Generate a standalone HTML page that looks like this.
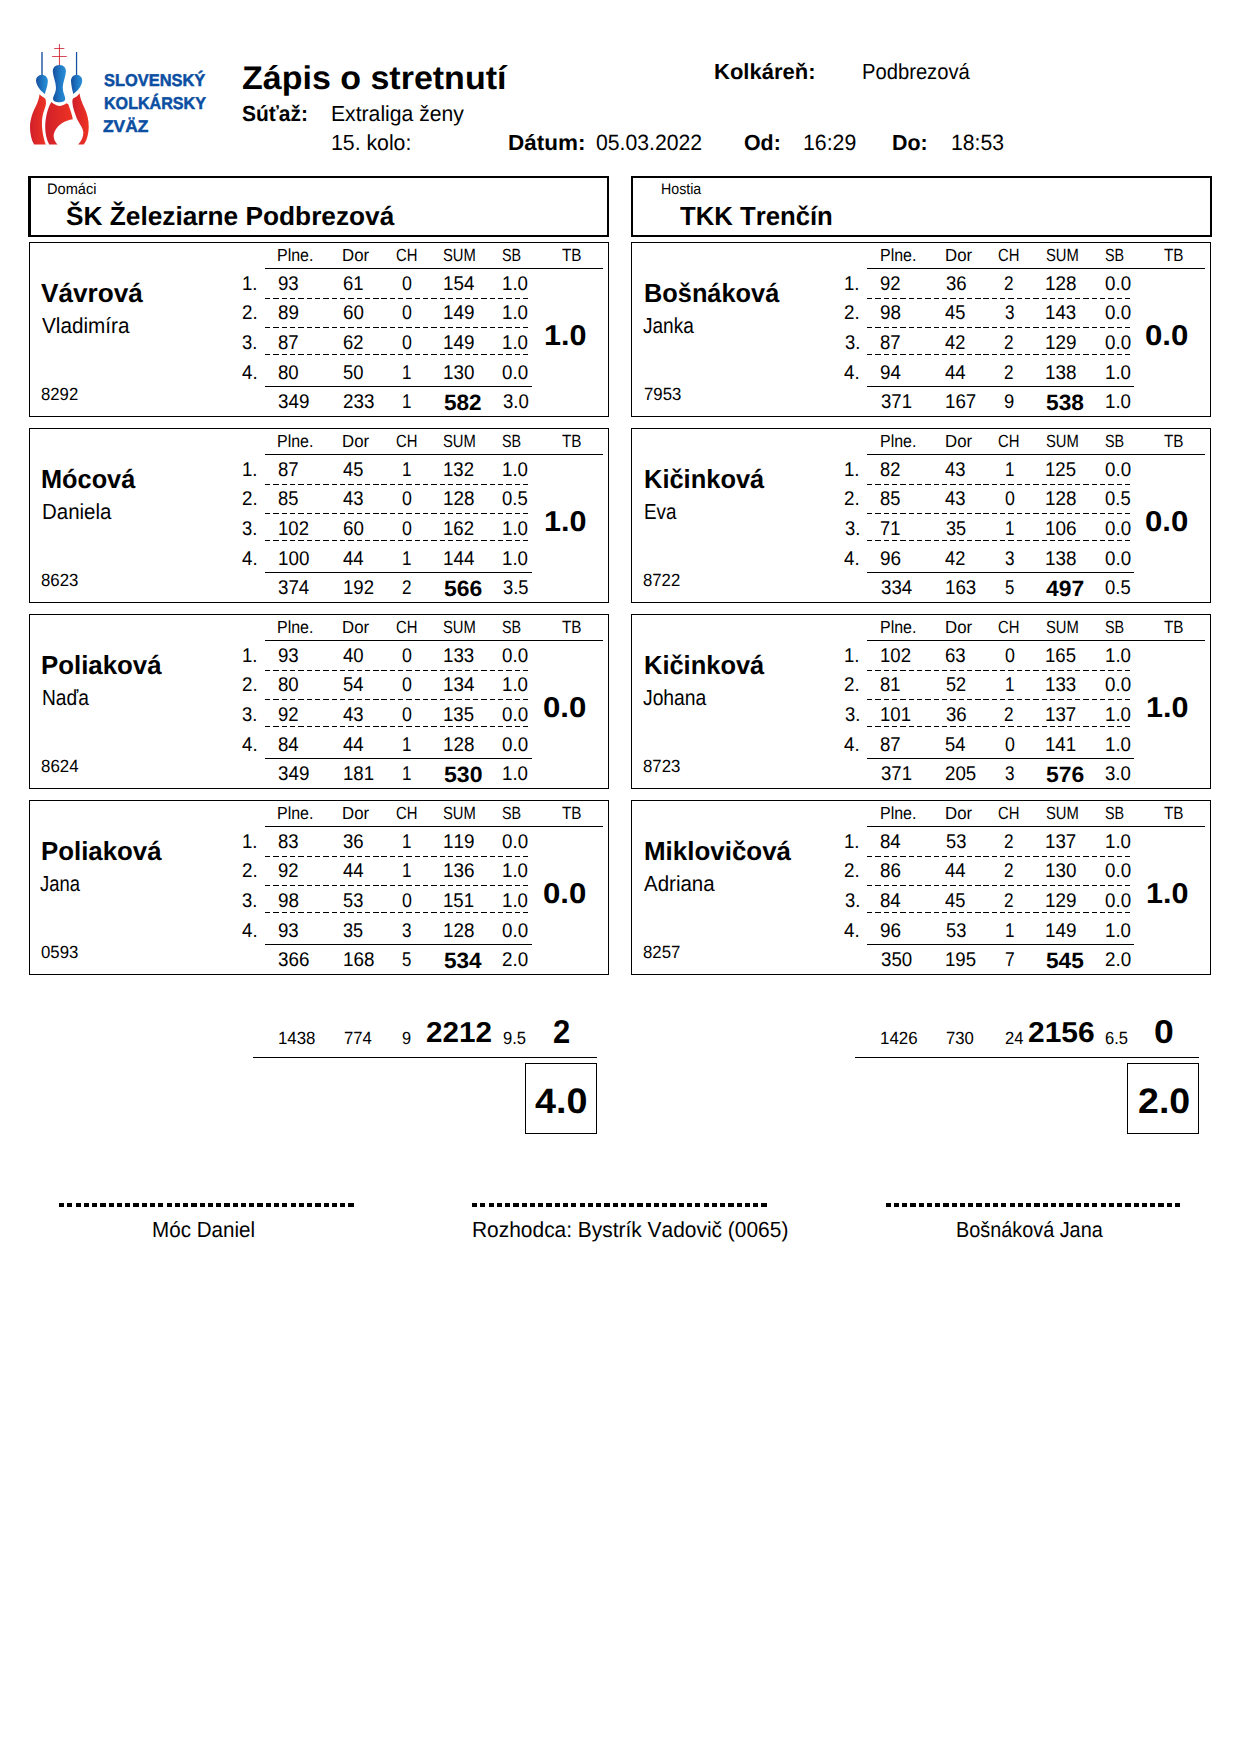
<!DOCTYPE html>
<html lang="sk"><head><meta charset="utf-8"><title>Zápis o stretnutí</title>
<style>
html,body{margin:0;padding:0;background:#fff;}
body{width:1240px;height:1754px;position:relative;overflow:hidden;font-family:"Liberation Sans",sans-serif;color:#000;}
#pg{position:absolute;left:0;top:0;width:1240px;height:1754px;}
.t{position:absolute;white-space:pre;line-height:1;transform-origin:0 0;font-kerning:none;text-rendering:geometricPrecision;font-weight:400;}
.b{font-weight:700;}
svg{position:absolute;left:0;top:0;}
</style></head><body>
<svg width="1240" height="1754" viewBox="0 0 1240 1754" shape-rendering="crispEdges">
<rect x="28" y="176" width="581" height="2" fill="#000"/>
<rect x="28" y="235" width="581" height="2" fill="#000"/>
<rect x="28" y="176" width="3" height="61" fill="#000"/>
<rect x="607" y="176" width="2" height="61" fill="#000"/>
<rect x="631" y="176" width="581" height="2" fill="#000"/>
<rect x="631" y="235" width="581" height="2" fill="#000"/>
<rect x="631" y="176" width="2" height="61" fill="#000"/>
<rect x="1210" y="176" width="2" height="61" fill="#000"/>
<rect x="29.5" y="242.5" width="579" height="174" fill="none" stroke="#000" stroke-width="1"/>
<rect x="265" y="268" width="338" height="1" fill="#000"/>
<line x1="265" y1="298.5" x2="529.6" y2="298.5" stroke="#000" stroke-width="1" stroke-dasharray="5.35 2.97"/>
<line x1="265" y1="327.5" x2="529.6" y2="327.5" stroke="#000" stroke-width="1" stroke-dasharray="5.35 2.97"/>
<line x1="265" y1="354.5" x2="529.6" y2="354.5" stroke="#000" stroke-width="1" stroke-dasharray="5.35 2.97"/>
<rect x="265" y="386" width="267" height="1" fill="#000"/>
<rect x="29.5" y="428.5" width="579" height="174" fill="none" stroke="#000" stroke-width="1"/>
<rect x="265" y="454" width="338" height="1" fill="#000"/>
<line x1="265" y1="484.5" x2="529.6" y2="484.5" stroke="#000" stroke-width="1" stroke-dasharray="5.35 2.97"/>
<line x1="265" y1="513.5" x2="529.6" y2="513.5" stroke="#000" stroke-width="1" stroke-dasharray="5.35 2.97"/>
<line x1="265" y1="540.5" x2="529.6" y2="540.5" stroke="#000" stroke-width="1" stroke-dasharray="5.35 2.97"/>
<rect x="265" y="572" width="267" height="1" fill="#000"/>
<rect x="29.5" y="614.5" width="579" height="174" fill="none" stroke="#000" stroke-width="1"/>
<rect x="265" y="640" width="338" height="1" fill="#000"/>
<line x1="265" y1="670.5" x2="529.6" y2="670.5" stroke="#000" stroke-width="1" stroke-dasharray="5.35 2.97"/>
<line x1="265" y1="699.5" x2="529.6" y2="699.5" stroke="#000" stroke-width="1" stroke-dasharray="5.35 2.97"/>
<line x1="265" y1="726.5" x2="529.6" y2="726.5" stroke="#000" stroke-width="1" stroke-dasharray="5.35 2.97"/>
<rect x="265" y="758" width="267" height="1" fill="#000"/>
<rect x="29.5" y="800.5" width="579" height="174" fill="none" stroke="#000" stroke-width="1"/>
<rect x="265" y="826" width="338" height="1" fill="#000"/>
<line x1="265" y1="856.5" x2="529.6" y2="856.5" stroke="#000" stroke-width="1" stroke-dasharray="5.35 2.97"/>
<line x1="265" y1="885.5" x2="529.6" y2="885.5" stroke="#000" stroke-width="1" stroke-dasharray="5.35 2.97"/>
<line x1="265" y1="912.5" x2="529.6" y2="912.5" stroke="#000" stroke-width="1" stroke-dasharray="5.35 2.97"/>
<rect x="265" y="944" width="267" height="1" fill="#000"/>
<rect x="253" y="1057" width="344" height="1" fill="#000"/>
<rect x="525.5" y="1063.5" width="71" height="70" fill="none" stroke="#000" stroke-width="1"/>
<rect x="631.5" y="242.5" width="579" height="174" fill="none" stroke="#000" stroke-width="1"/>
<rect x="867" y="268" width="338" height="1" fill="#000"/>
<line x1="867" y1="298.5" x2="1131.6" y2="298.5" stroke="#000" stroke-width="1" stroke-dasharray="5.35 2.97"/>
<line x1="867" y1="327.5" x2="1131.6" y2="327.5" stroke="#000" stroke-width="1" stroke-dasharray="5.35 2.97"/>
<line x1="867" y1="354.5" x2="1131.6" y2="354.5" stroke="#000" stroke-width="1" stroke-dasharray="5.35 2.97"/>
<rect x="867" y="386" width="267" height="1" fill="#000"/>
<rect x="631.5" y="428.5" width="579" height="174" fill="none" stroke="#000" stroke-width="1"/>
<rect x="867" y="454" width="338" height="1" fill="#000"/>
<line x1="867" y1="484.5" x2="1131.6" y2="484.5" stroke="#000" stroke-width="1" stroke-dasharray="5.35 2.97"/>
<line x1="867" y1="513.5" x2="1131.6" y2="513.5" stroke="#000" stroke-width="1" stroke-dasharray="5.35 2.97"/>
<line x1="867" y1="540.5" x2="1131.6" y2="540.5" stroke="#000" stroke-width="1" stroke-dasharray="5.35 2.97"/>
<rect x="867" y="572" width="267" height="1" fill="#000"/>
<rect x="631.5" y="614.5" width="579" height="174" fill="none" stroke="#000" stroke-width="1"/>
<rect x="867" y="640" width="338" height="1" fill="#000"/>
<line x1="867" y1="670.5" x2="1131.6" y2="670.5" stroke="#000" stroke-width="1" stroke-dasharray="5.35 2.97"/>
<line x1="867" y1="699.5" x2="1131.6" y2="699.5" stroke="#000" stroke-width="1" stroke-dasharray="5.35 2.97"/>
<line x1="867" y1="726.5" x2="1131.6" y2="726.5" stroke="#000" stroke-width="1" stroke-dasharray="5.35 2.97"/>
<rect x="867" y="758" width="267" height="1" fill="#000"/>
<rect x="631.5" y="800.5" width="579" height="174" fill="none" stroke="#000" stroke-width="1"/>
<rect x="867" y="826" width="338" height="1" fill="#000"/>
<line x1="867" y1="856.5" x2="1131.6" y2="856.5" stroke="#000" stroke-width="1" stroke-dasharray="5.35 2.97"/>
<line x1="867" y1="885.5" x2="1131.6" y2="885.5" stroke="#000" stroke-width="1" stroke-dasharray="5.35 2.97"/>
<line x1="867" y1="912.5" x2="1131.6" y2="912.5" stroke="#000" stroke-width="1" stroke-dasharray="5.35 2.97"/>
<rect x="867" y="944" width="267" height="1" fill="#000"/>
<rect x="855" y="1057" width="344" height="1" fill="#000"/>
<rect x="1127.5" y="1063.5" width="71" height="70" fill="none" stroke="#000" stroke-width="1"/>
<line x1="59" y1="1205.0" x2="355.6" y2="1205.0" stroke="#000" stroke-width="4" stroke-dasharray="5.2 3.07"/>
<line x1="472" y1="1205.0" x2="768.6" y2="1205.0" stroke="#000" stroke-width="4" stroke-dasharray="5.2 3.07"/>
<line x1="885.5" y1="1205.0" x2="1182.1" y2="1205.0" stroke="#000" stroke-width="4" stroke-dasharray="5.2 3.07"/>
</svg>
<div id="pg">
<span class="t b" style="left:241.99px;top:62px;font-size:32.81px;transform:scaleX(1.0365)">Zápis o stretnutí</span>
<span class="t b" style="left:242.30px;top:103px;font-size:21.87px;transform:scaleX(0.9598)">Súťaž:</span>
<span class="t" style="left:330.76px;top:103px;font-size:21.87px;transform:scaleX(0.9679)">Extraliga ženy</span>
<span class="t" style="left:330.88px;top:132px;font-size:21.87px;transform:scaleX(0.9722)">15. kolo:</span>
<span class="t b" style="left:714.23px;top:61px;font-size:21.87px;transform:scaleX(1.0063)">Kolkáreň:</span>
<span class="t" style="left:861.64px;top:61px;font-size:21.87px;transform:scaleX(0.9237)">Podbrezová</span>
<span class="t b" style="left:508.30px;top:132px;font-size:21.87px;transform:scaleX(1.0274)">Dátum:</span>
<span class="t" style="left:595.97px;top:132px;font-size:22.08px;transform:scaleX(0.9599)">05.03.2022</span>
<span class="t b" style="left:744.02px;top:132px;font-size:21.87px;transform:scaleX(0.9761)">Od:</span>
<span class="t" style="left:802.98px;top:132px;font-size:22.08px;transform:scaleX(0.9643)">16:29</span>
<span class="t b" style="left:891.57px;top:132px;font-size:21.87px;transform:scaleX(0.9774)">Do:</span>
<span class="t" style="left:950.99px;top:132px;font-size:22.08px;transform:scaleX(0.9594)">18:53</span>
<span class="t b" style="left:103.53px;top:72px;font-size:17.10px;transform:scaleX(0.9608);color:#0b4ea2;-webkit-text-stroke:0.5px #0b4ea2">SLOVENSKÝ</span>
<span class="t b" style="left:104.22px;top:95px;font-size:17.10px;transform:scaleX(0.9412);color:#0b4ea2;-webkit-text-stroke:0.5px #0b4ea2">KOLKÁRSKY</span>
<span class="t b" style="left:103.48px;top:118px;font-size:17.10px;transform:scaleX(1.0173);color:#0b4ea2;-webkit-text-stroke:0.5px #0b4ea2">ZVÄZ</span>
<span class="t" style="left:46.60px;top:182px;font-size:15.31px;transform:scaleX(0.9535)">Domáci</span>
<span class="t b" style="left:65.64px;top:203px;font-size:26.25px;transform:scaleX(1.0003)">ŠK Železiarne Podbrezová</span>
<span class="t" style="left:660.73px;top:182px;font-size:15.31px;transform:scaleX(0.9277)">Hostia</span>
<span class="t b" style="left:679.71px;top:203px;font-size:26.25px;transform:scaleX(0.9793)">TKK Trenčín</span>
<span class="t b" style="left:41.02px;top:280px;font-size:26.25px;transform:scaleX(0.9972)">Vávrová</span>
<span class="t" style="left:41.61px;top:315px;font-size:21.87px;transform:scaleX(0.9476)">Vladimíra</span>
<span class="t" style="left:41.07px;top:386px;font-size:17.67px;transform:scaleX(0.9467)">8292</span>
<span class="t" style="left:277.49px;top:247px;font-size:17.50px;transform:scaleX(0.9124)">Plne.</span>
<span class="t" style="left:342.42px;top:247px;font-size:17.50px;transform:scaleX(0.9604)">Dor</span>
<span class="t" style="left:395.95px;top:247px;font-size:17.67px;transform:scaleX(0.8390)">CH</span>
<span class="t" style="left:443.33px;top:247px;font-size:17.67px;transform:scaleX(0.8375)">SUM</span>
<span class="t" style="left:502.25px;top:247px;font-size:17.67px;transform:scaleX(0.8135)">SB</span>
<span class="t" style="left:561.66px;top:247px;font-size:17.67px;transform:scaleX(0.8674)">TB</span>
<span class="t" style="left:241.98px;top:275px;font-size:19.87px;transform:scaleX(0.9381)">1.</span>
<span class="t" style="left:277.73px;top:275px;font-size:19.87px;transform:scaleX(0.9391)">93</span>
<span class="t" style="left:342.76px;top:275px;font-size:19.87px;transform:scaleX(0.9313)">61</span>
<span class="t" style="left:402.10px;top:275px;font-size:19.87px;transform:scaleX(0.8964)">0</span>
<span class="t" style="left:442.97px;top:275px;font-size:19.87px;transform:scaleX(0.9469)">154</span>
<span class="t" style="left:502.37px;top:275px;font-size:19.87px;transform:scaleX(0.9418)">1.0</span>
<span class="t" style="left:241.84px;top:304px;font-size:19.87px;transform:scaleX(0.9476)">2.</span>
<span class="t" style="left:277.87px;top:304px;font-size:19.87px;transform:scaleX(0.9432)">89</span>
<span class="t" style="left:342.75px;top:304px;font-size:19.87px;transform:scaleX(0.9441)">60</span>
<span class="t" style="left:402.10px;top:304px;font-size:19.87px;transform:scaleX(0.8964)">0</span>
<span class="t" style="left:442.96px;top:304px;font-size:19.87px;transform:scaleX(0.9502)">149</span>
<span class="t" style="left:502.37px;top:304px;font-size:19.87px;transform:scaleX(0.9418)">1.0</span>
<span class="t" style="left:242.13px;top:334px;font-size:19.87px;transform:scaleX(0.9279)">3.</span>
<span class="t" style="left:277.88px;top:334px;font-size:19.87px;transform:scaleX(0.9332)">87</span>
<span class="t" style="left:342.77px;top:334px;font-size:19.87px;transform:scaleX(0.9263)">62</span>
<span class="t" style="left:402.10px;top:334px;font-size:19.87px;transform:scaleX(0.8964)">0</span>
<span class="t" style="left:442.96px;top:334px;font-size:19.87px;transform:scaleX(0.9502)">149</span>
<span class="t" style="left:502.37px;top:334px;font-size:19.87px;transform:scaleX(0.9418)">1.0</span>
<span class="t" style="left:241.95px;top:364px;font-size:19.87px;transform:scaleX(0.9404)">4.</span>
<span class="t" style="left:277.87px;top:364px;font-size:19.87px;transform:scaleX(0.9387)">80</span>
<span class="t" style="left:343.09px;top:364px;font-size:19.87px;transform:scaleX(0.9280)">50</span>
<span class="t" style="left:402.25px;top:364px;font-size:19.87px;transform:scaleX(0.8560)">1</span>
<span class="t" style="left:442.97px;top:364px;font-size:19.87px;transform:scaleX(0.9472)">130</span>
<span class="t" style="left:502.33px;top:364px;font-size:19.87px;transform:scaleX(0.9436)">0.0</span>
<span class="t" style="left:278.10px;top:393px;font-size:19.87px;transform:scaleX(0.9454)">349</span>
<span class="t" style="left:342.82px;top:393px;font-size:19.87px;transform:scaleX(0.9469)">233</span>
<span class="t" style="left:402.25px;top:393px;font-size:19.87px;transform:scaleX(0.8560)">1</span>
<span class="t b" style="left:443.71px;top:392px;font-size:22.08px;transform:scaleX(1.0223)">582</span>
<span class="t" style="left:502.52px;top:393px;font-size:19.87px;transform:scaleX(0.9363)">3.0</span>
<span class="t b" style="left:543.78px;top:322px;font-size:28.71px;transform:scaleX(1.0637)">1.0</span>
<span class="t b" style="left:41.46px;top:466px;font-size:26.25px;transform:scaleX(0.9646)">Mócová</span>
<span class="t" style="left:41.71px;top:501px;font-size:21.87px;transform:scaleX(0.9357)">Daniela</span>
<span class="t" style="left:41.07px;top:572px;font-size:17.67px;transform:scaleX(0.9518)">8623</span>
<span class="t" style="left:277.49px;top:433px;font-size:17.50px;transform:scaleX(0.9124)">Plne.</span>
<span class="t" style="left:342.42px;top:433px;font-size:17.50px;transform:scaleX(0.9604)">Dor</span>
<span class="t" style="left:395.95px;top:433px;font-size:17.67px;transform:scaleX(0.8390)">CH</span>
<span class="t" style="left:443.33px;top:433px;font-size:17.67px;transform:scaleX(0.8375)">SUM</span>
<span class="t" style="left:502.25px;top:433px;font-size:17.67px;transform:scaleX(0.8135)">SB</span>
<span class="t" style="left:561.66px;top:433px;font-size:17.67px;transform:scaleX(0.8674)">TB</span>
<span class="t" style="left:241.98px;top:461px;font-size:19.87px;transform:scaleX(0.9381)">1.</span>
<span class="t" style="left:277.88px;top:461px;font-size:19.87px;transform:scaleX(0.9332)">87</span>
<span class="t" style="left:342.93px;top:461px;font-size:19.87px;transform:scaleX(0.9212)">45</span>
<span class="t" style="left:402.25px;top:461px;font-size:19.87px;transform:scaleX(0.8560)">1</span>
<span class="t" style="left:442.98px;top:461px;font-size:19.87px;transform:scaleX(0.9356)">132</span>
<span class="t" style="left:502.37px;top:461px;font-size:19.87px;transform:scaleX(0.9418)">1.0</span>
<span class="t" style="left:241.84px;top:490px;font-size:19.87px;transform:scaleX(0.9476)">2.</span>
<span class="t" style="left:277.88px;top:490px;font-size:19.87px;transform:scaleX(0.9239)">85</span>
<span class="t" style="left:342.93px;top:490px;font-size:19.87px;transform:scaleX(0.9291)">43</span>
<span class="t" style="left:402.10px;top:490px;font-size:19.87px;transform:scaleX(0.8964)">0</span>
<span class="t" style="left:442.96px;top:490px;font-size:19.87px;transform:scaleX(0.9487)">128</span>
<span class="t" style="left:502.34px;top:490px;font-size:19.87px;transform:scaleX(0.9320)">0.5</span>
<span class="t" style="left:242.13px;top:520px;font-size:19.87px;transform:scaleX(0.9279)">3.</span>
<span class="t" style="left:277.97px;top:520px;font-size:19.87px;transform:scaleX(0.9356)">102</span>
<span class="t" style="left:342.75px;top:520px;font-size:19.87px;transform:scaleX(0.9441)">60</span>
<span class="t" style="left:402.10px;top:520px;font-size:19.87px;transform:scaleX(0.8964)">0</span>
<span class="t" style="left:442.98px;top:520px;font-size:19.87px;transform:scaleX(0.9356)">162</span>
<span class="t" style="left:502.37px;top:520px;font-size:19.87px;transform:scaleX(0.9418)">1.0</span>
<span class="t" style="left:241.95px;top:550px;font-size:19.87px;transform:scaleX(0.9404)">4.</span>
<span class="t" style="left:277.95px;top:550px;font-size:19.87px;transform:scaleX(0.9472)">100</span>
<span class="t" style="left:342.93px;top:550px;font-size:19.87px;transform:scaleX(0.9354)">44</span>
<span class="t" style="left:402.25px;top:550px;font-size:19.87px;transform:scaleX(0.8560)">1</span>
<span class="t" style="left:442.97px;top:550px;font-size:19.87px;transform:scaleX(0.9469)">144</span>
<span class="t" style="left:502.37px;top:550px;font-size:19.87px;transform:scaleX(0.9418)">1.0</span>
<span class="t" style="left:278.11px;top:579px;font-size:19.87px;transform:scaleX(0.9422)">374</span>
<span class="t" style="left:342.96px;top:579px;font-size:19.87px;transform:scaleX(0.9356)">192</span>
<span class="t" style="left:402.07px;top:579px;font-size:19.87px;transform:scaleX(0.8637)">2</span>
<span class="t b" style="left:443.70px;top:578px;font-size:22.08px;transform:scaleX(1.0373)">566</span>
<span class="t" style="left:502.53px;top:579px;font-size:19.87px;transform:scaleX(0.9246)">3.5</span>
<span class="t b" style="left:543.78px;top:508px;font-size:28.71px;transform:scaleX(1.0637)">1.0</span>
<span class="t b" style="left:41.43px;top:652px;font-size:26.25px;transform:scaleX(0.9840)">Poliaková</span>
<span class="t" style="left:41.82px;top:687px;font-size:21.87px;transform:scaleX(0.8764)">Naďa</span>
<span class="t" style="left:41.07px;top:758px;font-size:17.67px;transform:scaleX(0.9548)">8624</span>
<span class="t" style="left:277.49px;top:619px;font-size:17.50px;transform:scaleX(0.9124)">Plne.</span>
<span class="t" style="left:342.42px;top:619px;font-size:17.50px;transform:scaleX(0.9604)">Dor</span>
<span class="t" style="left:395.95px;top:619px;font-size:17.67px;transform:scaleX(0.8390)">CH</span>
<span class="t" style="left:443.33px;top:619px;font-size:17.67px;transform:scaleX(0.8375)">SUM</span>
<span class="t" style="left:502.25px;top:619px;font-size:17.67px;transform:scaleX(0.8135)">SB</span>
<span class="t" style="left:561.66px;top:619px;font-size:17.67px;transform:scaleX(0.8674)">TB</span>
<span class="t" style="left:241.98px;top:647px;font-size:19.87px;transform:scaleX(0.9381)">1.</span>
<span class="t" style="left:277.73px;top:647px;font-size:19.87px;transform:scaleX(0.9391)">93</span>
<span class="t" style="left:342.93px;top:647px;font-size:19.87px;transform:scaleX(0.9357)">40</span>
<span class="t" style="left:402.10px;top:647px;font-size:19.87px;transform:scaleX(0.8964)">0</span>
<span class="t" style="left:442.97px;top:647px;font-size:19.87px;transform:scaleX(0.9427)">133</span>
<span class="t" style="left:502.33px;top:647px;font-size:19.87px;transform:scaleX(0.9436)">0.0</span>
<span class="t" style="left:241.84px;top:676px;font-size:19.87px;transform:scaleX(0.9476)">2.</span>
<span class="t" style="left:277.87px;top:676px;font-size:19.87px;transform:scaleX(0.9387)">80</span>
<span class="t" style="left:343.09px;top:676px;font-size:19.87px;transform:scaleX(0.9277)">54</span>
<span class="t" style="left:402.10px;top:676px;font-size:19.87px;transform:scaleX(0.8964)">0</span>
<span class="t" style="left:442.97px;top:676px;font-size:19.87px;transform:scaleX(0.9469)">134</span>
<span class="t" style="left:502.37px;top:676px;font-size:19.87px;transform:scaleX(0.9418)">1.0</span>
<span class="t" style="left:242.13px;top:706px;font-size:19.87px;transform:scaleX(0.9279)">3.</span>
<span class="t" style="left:277.74px;top:706px;font-size:19.87px;transform:scaleX(0.9282)">92</span>
<span class="t" style="left:342.93px;top:706px;font-size:19.87px;transform:scaleX(0.9291)">43</span>
<span class="t" style="left:402.10px;top:706px;font-size:19.87px;transform:scaleX(0.8964)">0</span>
<span class="t" style="left:442.98px;top:706px;font-size:19.87px;transform:scaleX(0.9374)">135</span>
<span class="t" style="left:502.33px;top:706px;font-size:19.87px;transform:scaleX(0.9436)">0.0</span>
<span class="t" style="left:241.95px;top:736px;font-size:19.87px;transform:scaleX(0.9404)">4.</span>
<span class="t" style="left:277.87px;top:736px;font-size:19.87px;transform:scaleX(0.9383)">84</span>
<span class="t" style="left:342.93px;top:736px;font-size:19.87px;transform:scaleX(0.9354)">44</span>
<span class="t" style="left:402.25px;top:736px;font-size:19.87px;transform:scaleX(0.8560)">1</span>
<span class="t" style="left:442.96px;top:736px;font-size:19.87px;transform:scaleX(0.9487)">128</span>
<span class="t" style="left:502.33px;top:736px;font-size:19.87px;transform:scaleX(0.9436)">0.0</span>
<span class="t" style="left:278.10px;top:765px;font-size:19.87px;transform:scaleX(0.9454)">349</span>
<span class="t" style="left:342.96px;top:765px;font-size:19.87px;transform:scaleX(0.9389)">181</span>
<span class="t" style="left:402.25px;top:765px;font-size:19.87px;transform:scaleX(0.8560)">1</span>
<span class="t b" style="left:443.69px;top:764px;font-size:22.08px;transform:scaleX(1.0437)">530</span>
<span class="t" style="left:502.37px;top:765px;font-size:19.87px;transform:scaleX(0.9418)">1.0</span>
<span class="t b" style="left:542.89px;top:694px;font-size:28.71px;transform:scaleX(1.0865)">0.0</span>
<span class="t b" style="left:41.43px;top:838px;font-size:26.25px;transform:scaleX(0.9840)">Poliaková</span>
<span class="t" style="left:40.29px;top:873px;font-size:21.87px;transform:scaleX(0.8424)">Jana</span>
<span class="t" style="left:41.11px;top:944px;font-size:17.67px;transform:scaleX(0.9507)">0593</span>
<span class="t" style="left:277.49px;top:805px;font-size:17.50px;transform:scaleX(0.9124)">Plne.</span>
<span class="t" style="left:342.42px;top:805px;font-size:17.50px;transform:scaleX(0.9604)">Dor</span>
<span class="t" style="left:395.95px;top:805px;font-size:17.67px;transform:scaleX(0.8390)">CH</span>
<span class="t" style="left:443.33px;top:805px;font-size:17.67px;transform:scaleX(0.8375)">SUM</span>
<span class="t" style="left:502.25px;top:805px;font-size:17.67px;transform:scaleX(0.8135)">SB</span>
<span class="t" style="left:561.66px;top:805px;font-size:17.67px;transform:scaleX(0.8674)">TB</span>
<span class="t" style="left:241.98px;top:833px;font-size:19.87px;transform:scaleX(0.9381)">1.</span>
<span class="t" style="left:277.88px;top:833px;font-size:19.87px;transform:scaleX(0.9319)">83</span>
<span class="t" style="left:343.10px;top:833px;font-size:19.87px;transform:scaleX(0.9342)">36</span>
<span class="t" style="left:402.25px;top:833px;font-size:19.87px;transform:scaleX(0.8560)">1</span>
<span class="t" style="left:442.96px;top:833px;font-size:19.87px;transform:scaleX(0.9502)">119</span>
<span class="t" style="left:502.33px;top:833px;font-size:19.87px;transform:scaleX(0.9436)">0.0</span>
<span class="t" style="left:241.84px;top:862px;font-size:19.87px;transform:scaleX(0.9476)">2.</span>
<span class="t" style="left:277.74px;top:862px;font-size:19.87px;transform:scaleX(0.9282)">92</span>
<span class="t" style="left:342.93px;top:862px;font-size:19.87px;transform:scaleX(0.9354)">44</span>
<span class="t" style="left:402.25px;top:862px;font-size:19.87px;transform:scaleX(0.8560)">1</span>
<span class="t" style="left:442.96px;top:862px;font-size:19.87px;transform:scaleX(0.9520)">136</span>
<span class="t" style="left:502.37px;top:862px;font-size:19.87px;transform:scaleX(0.9418)">1.0</span>
<span class="t" style="left:242.13px;top:892px;font-size:19.87px;transform:scaleX(0.9279)">3.</span>
<span class="t" style="left:277.72px;top:892px;font-size:19.87px;transform:scaleX(0.9481)">98</span>
<span class="t" style="left:343.10px;top:892px;font-size:19.87px;transform:scaleX(0.9212)">53</span>
<span class="t" style="left:402.10px;top:892px;font-size:19.87px;transform:scaleX(0.8964)">0</span>
<span class="t" style="left:442.98px;top:892px;font-size:19.87px;transform:scaleX(0.9389)">151</span>
<span class="t" style="left:502.37px;top:892px;font-size:19.87px;transform:scaleX(0.9418)">1.0</span>
<span class="t" style="left:241.95px;top:922px;font-size:19.87px;transform:scaleX(0.9404)">4.</span>
<span class="t" style="left:277.73px;top:922px;font-size:19.87px;transform:scaleX(0.9391)">93</span>
<span class="t" style="left:343.12px;top:922px;font-size:19.87px;transform:scaleX(0.9124)">35</span>
<span class="t" style="left:402.32px;top:922px;font-size:19.87px;transform:scaleX(0.8610)">3</span>
<span class="t" style="left:442.96px;top:922px;font-size:19.87px;transform:scaleX(0.9487)">128</span>
<span class="t" style="left:502.33px;top:922px;font-size:19.87px;transform:scaleX(0.9436)">0.0</span>
<span class="t" style="left:278.10px;top:951px;font-size:19.87px;transform:scaleX(0.9471)">366</span>
<span class="t" style="left:342.94px;top:951px;font-size:19.87px;transform:scaleX(0.9487)">168</span>
<span class="t" style="left:402.32px;top:951px;font-size:19.87px;transform:scaleX(0.8455)">5</span>
<span class="t b" style="left:443.71px;top:950px;font-size:22.08px;transform:scaleX(1.0217)">534</span>
<span class="t" style="left:502.24px;top:951px;font-size:19.87px;transform:scaleX(0.9468)">2.0</span>
<span class="t b" style="left:542.89px;top:880px;font-size:28.71px;transform:scaleX(1.0865)">0.0</span>
<span class="t b" style="left:643.86px;top:280px;font-size:26.25px;transform:scaleX(0.9655)">Bošnáková</span>
<span class="t" style="left:642.68px;top:315px;font-size:21.87px;transform:scaleX(0.8707)">Janka</span>
<span class="t" style="left:643.55px;top:386px;font-size:17.67px;transform:scaleX(0.9497)">7953</span>
<span class="t" style="left:879.89px;top:247px;font-size:17.50px;transform:scaleX(0.9124)">Plne.</span>
<span class="t" style="left:944.82px;top:247px;font-size:17.50px;transform:scaleX(0.9604)">Dor</span>
<span class="t" style="left:998.35px;top:247px;font-size:17.67px;transform:scaleX(0.8390)">CH</span>
<span class="t" style="left:1045.73px;top:247px;font-size:17.67px;transform:scaleX(0.8375)">SUM</span>
<span class="t" style="left:1104.65px;top:247px;font-size:17.67px;transform:scaleX(0.8135)">SB</span>
<span class="t" style="left:1164.06px;top:247px;font-size:17.67px;transform:scaleX(0.8674)">TB</span>
<span class="t" style="left:844.38px;top:275px;font-size:19.87px;transform:scaleX(0.9381)">1.</span>
<span class="t" style="left:880.14px;top:275px;font-size:19.87px;transform:scaleX(0.9282)">92</span>
<span class="t" style="left:945.50px;top:275px;font-size:19.87px;transform:scaleX(0.9342)">36</span>
<span class="t" style="left:1004.47px;top:275px;font-size:19.87px;transform:scaleX(0.8637)">2</span>
<span class="t" style="left:1045.36px;top:275px;font-size:19.87px;transform:scaleX(0.9487)">128</span>
<span class="t" style="left:1104.73px;top:275px;font-size:19.87px;transform:scaleX(0.9436)">0.0</span>
<span class="t" style="left:844.24px;top:304px;font-size:19.87px;transform:scaleX(0.9476)">2.</span>
<span class="t" style="left:880.12px;top:304px;font-size:19.87px;transform:scaleX(0.9481)">98</span>
<span class="t" style="left:945.33px;top:304px;font-size:19.87px;transform:scaleX(0.9212)">45</span>
<span class="t" style="left:1004.72px;top:304px;font-size:19.87px;transform:scaleX(0.8610)">3</span>
<span class="t" style="left:1045.37px;top:304px;font-size:19.87px;transform:scaleX(0.9427)">143</span>
<span class="t" style="left:1104.73px;top:304px;font-size:19.87px;transform:scaleX(0.9436)">0.0</span>
<span class="t" style="left:844.53px;top:334px;font-size:19.87px;transform:scaleX(0.9279)">3.</span>
<span class="t" style="left:880.28px;top:334px;font-size:19.87px;transform:scaleX(0.9332)">87</span>
<span class="t" style="left:945.33px;top:334px;font-size:19.87px;transform:scaleX(0.9184)">42</span>
<span class="t" style="left:1004.47px;top:334px;font-size:19.87px;transform:scaleX(0.8637)">2</span>
<span class="t" style="left:1045.36px;top:334px;font-size:19.87px;transform:scaleX(0.9502)">129</span>
<span class="t" style="left:1104.73px;top:334px;font-size:19.87px;transform:scaleX(0.9436)">0.0</span>
<span class="t" style="left:844.35px;top:364px;font-size:19.87px;transform:scaleX(0.9404)">4.</span>
<span class="t" style="left:880.12px;top:364px;font-size:19.87px;transform:scaleX(0.9454)">94</span>
<span class="t" style="left:945.33px;top:364px;font-size:19.87px;transform:scaleX(0.9354)">44</span>
<span class="t" style="left:1004.47px;top:364px;font-size:19.87px;transform:scaleX(0.8637)">2</span>
<span class="t" style="left:1045.36px;top:364px;font-size:19.87px;transform:scaleX(0.9487)">138</span>
<span class="t" style="left:1104.77px;top:364px;font-size:19.87px;transform:scaleX(0.9418)">1.0</span>
<span class="t" style="left:880.51px;top:393px;font-size:19.87px;transform:scaleX(0.9343)">371</span>
<span class="t" style="left:945.35px;top:393px;font-size:19.87px;transform:scaleX(0.9436)">167</span>
<span class="t" style="left:1004.29px;top:393px;font-size:19.87px;transform:scaleX(0.9257)">9</span>
<span class="t b" style="left:1046.10px;top:392px;font-size:22.08px;transform:scaleX(1.0295)">538</span>
<span class="t" style="left:1104.77px;top:393px;font-size:19.87px;transform:scaleX(0.9418)">1.0</span>
<span class="t b" style="left:1145.29px;top:322px;font-size:28.71px;transform:scaleX(1.0865)">0.0</span>
<span class="t b" style="left:643.85px;top:466px;font-size:26.25px;transform:scaleX(0.9696)">Kičinková</span>
<span class="t" style="left:644.24px;top:501px;font-size:21.87px;transform:scaleX(0.8608)">Eva</span>
<span class="t" style="left:643.47px;top:572px;font-size:17.67px;transform:scaleX(0.9467)">8722</span>
<span class="t" style="left:879.89px;top:433px;font-size:17.50px;transform:scaleX(0.9124)">Plne.</span>
<span class="t" style="left:944.82px;top:433px;font-size:17.50px;transform:scaleX(0.9604)">Dor</span>
<span class="t" style="left:998.35px;top:433px;font-size:17.67px;transform:scaleX(0.8390)">CH</span>
<span class="t" style="left:1045.73px;top:433px;font-size:17.67px;transform:scaleX(0.8375)">SUM</span>
<span class="t" style="left:1104.65px;top:433px;font-size:17.67px;transform:scaleX(0.8135)">SB</span>
<span class="t" style="left:1164.06px;top:433px;font-size:17.67px;transform:scaleX(0.8674)">TB</span>
<span class="t" style="left:844.38px;top:461px;font-size:19.87px;transform:scaleX(0.9381)">1.</span>
<span class="t" style="left:880.29px;top:461px;font-size:19.87px;transform:scaleX(0.9210)">82</span>
<span class="t" style="left:945.33px;top:461px;font-size:19.87px;transform:scaleX(0.9291)">43</span>
<span class="t" style="left:1004.65px;top:461px;font-size:19.87px;transform:scaleX(0.8560)">1</span>
<span class="t" style="left:1045.38px;top:461px;font-size:19.87px;transform:scaleX(0.9374)">125</span>
<span class="t" style="left:1104.73px;top:461px;font-size:19.87px;transform:scaleX(0.9436)">0.0</span>
<span class="t" style="left:844.24px;top:490px;font-size:19.87px;transform:scaleX(0.9476)">2.</span>
<span class="t" style="left:880.28px;top:490px;font-size:19.87px;transform:scaleX(0.9239)">85</span>
<span class="t" style="left:945.33px;top:490px;font-size:19.87px;transform:scaleX(0.9291)">43</span>
<span class="t" style="left:1004.50px;top:490px;font-size:19.87px;transform:scaleX(0.8964)">0</span>
<span class="t" style="left:1045.36px;top:490px;font-size:19.87px;transform:scaleX(0.9487)">128</span>
<span class="t" style="left:1104.74px;top:490px;font-size:19.87px;transform:scaleX(0.9320)">0.5</span>
<span class="t" style="left:844.53px;top:520px;font-size:19.87px;transform:scaleX(0.9279)">3.</span>
<span class="t" style="left:880.38px;top:520px;font-size:19.87px;transform:scaleX(0.9213)">71</span>
<span class="t" style="left:945.52px;top:520px;font-size:19.87px;transform:scaleX(0.9124)">35</span>
<span class="t" style="left:1004.65px;top:520px;font-size:19.87px;transform:scaleX(0.8560)">1</span>
<span class="t" style="left:1045.36px;top:520px;font-size:19.87px;transform:scaleX(0.9520)">106</span>
<span class="t" style="left:1104.73px;top:520px;font-size:19.87px;transform:scaleX(0.9436)">0.0</span>
<span class="t" style="left:844.35px;top:550px;font-size:19.87px;transform:scaleX(0.9404)">4.</span>
<span class="t" style="left:880.11px;top:550px;font-size:19.87px;transform:scaleX(0.9531)">96</span>
<span class="t" style="left:945.33px;top:550px;font-size:19.87px;transform:scaleX(0.9184)">42</span>
<span class="t" style="left:1004.72px;top:550px;font-size:19.87px;transform:scaleX(0.8610)">3</span>
<span class="t" style="left:1045.36px;top:550px;font-size:19.87px;transform:scaleX(0.9487)">138</span>
<span class="t" style="left:1104.73px;top:550px;font-size:19.87px;transform:scaleX(0.9436)">0.0</span>
<span class="t" style="left:880.51px;top:579px;font-size:19.87px;transform:scaleX(0.9422)">334</span>
<span class="t" style="left:945.35px;top:579px;font-size:19.87px;transform:scaleX(0.9427)">163</span>
<span class="t" style="left:1004.72px;top:579px;font-size:19.87px;transform:scaleX(0.8455)">5</span>
<span class="t b" style="left:1045.84px;top:578px;font-size:22.08px;transform:scaleX(1.0357)">497</span>
<span class="t" style="left:1104.74px;top:579px;font-size:19.87px;transform:scaleX(0.9320)">0.5</span>
<span class="t b" style="left:1145.29px;top:508px;font-size:28.71px;transform:scaleX(1.0865)">0.0</span>
<span class="t b" style="left:643.85px;top:652px;font-size:26.25px;transform:scaleX(0.9696)">Kičinková</span>
<span class="t" style="left:642.68px;top:687px;font-size:21.87px;transform:scaleX(0.8824)">Johana</span>
<span class="t" style="left:643.47px;top:758px;font-size:17.67px;transform:scaleX(0.9518)">8723</span>
<span class="t" style="left:879.89px;top:619px;font-size:17.50px;transform:scaleX(0.9124)">Plne.</span>
<span class="t" style="left:944.82px;top:619px;font-size:17.50px;transform:scaleX(0.9604)">Dor</span>
<span class="t" style="left:998.35px;top:619px;font-size:17.67px;transform:scaleX(0.8390)">CH</span>
<span class="t" style="left:1045.73px;top:619px;font-size:17.67px;transform:scaleX(0.8375)">SUM</span>
<span class="t" style="left:1104.65px;top:619px;font-size:17.67px;transform:scaleX(0.8135)">SB</span>
<span class="t" style="left:1164.06px;top:619px;font-size:17.67px;transform:scaleX(0.8674)">TB</span>
<span class="t" style="left:844.38px;top:647px;font-size:19.87px;transform:scaleX(0.9381)">1.</span>
<span class="t" style="left:880.37px;top:647px;font-size:19.87px;transform:scaleX(0.9356)">102</span>
<span class="t" style="left:945.15px;top:647px;font-size:19.87px;transform:scaleX(0.9373)">63</span>
<span class="t" style="left:1004.50px;top:647px;font-size:19.87px;transform:scaleX(0.8964)">0</span>
<span class="t" style="left:1045.38px;top:647px;font-size:19.87px;transform:scaleX(0.9374)">165</span>
<span class="t" style="left:1104.77px;top:647px;font-size:19.87px;transform:scaleX(0.9418)">1.0</span>
<span class="t" style="left:844.24px;top:676px;font-size:19.87px;transform:scaleX(0.9476)">2.</span>
<span class="t" style="left:880.28px;top:676px;font-size:19.87px;transform:scaleX(0.9260)">81</span>
<span class="t" style="left:945.50px;top:676px;font-size:19.87px;transform:scaleX(0.9103)">52</span>
<span class="t" style="left:1004.65px;top:676px;font-size:19.87px;transform:scaleX(0.8560)">1</span>
<span class="t" style="left:1045.37px;top:676px;font-size:19.87px;transform:scaleX(0.9427)">133</span>
<span class="t" style="left:1104.73px;top:676px;font-size:19.87px;transform:scaleX(0.9436)">0.0</span>
<span class="t" style="left:844.53px;top:706px;font-size:19.87px;transform:scaleX(0.9279)">3.</span>
<span class="t" style="left:880.37px;top:706px;font-size:19.87px;transform:scaleX(0.9389)">101</span>
<span class="t" style="left:945.50px;top:706px;font-size:19.87px;transform:scaleX(0.9342)">36</span>
<span class="t" style="left:1004.47px;top:706px;font-size:19.87px;transform:scaleX(0.8637)">2</span>
<span class="t" style="left:1045.37px;top:706px;font-size:19.87px;transform:scaleX(0.9436)">137</span>
<span class="t" style="left:1104.77px;top:706px;font-size:19.87px;transform:scaleX(0.9418)">1.0</span>
<span class="t" style="left:844.35px;top:736px;font-size:19.87px;transform:scaleX(0.9404)">4.</span>
<span class="t" style="left:880.28px;top:736px;font-size:19.87px;transform:scaleX(0.9332)">87</span>
<span class="t" style="left:945.49px;top:736px;font-size:19.87px;transform:scaleX(0.9277)">54</span>
<span class="t" style="left:1004.50px;top:736px;font-size:19.87px;transform:scaleX(0.8964)">0</span>
<span class="t" style="left:1045.38px;top:736px;font-size:19.87px;transform:scaleX(0.9389)">141</span>
<span class="t" style="left:1104.77px;top:736px;font-size:19.87px;transform:scaleX(0.9418)">1.0</span>
<span class="t" style="left:880.51px;top:765px;font-size:19.87px;transform:scaleX(0.9343)">371</span>
<span class="t" style="left:945.22px;top:765px;font-size:19.87px;transform:scaleX(0.9416)">205</span>
<span class="t" style="left:1004.72px;top:765px;font-size:19.87px;transform:scaleX(0.8610)">3</span>
<span class="t b" style="left:1046.10px;top:764px;font-size:22.08px;transform:scaleX(1.0373)">576</span>
<span class="t" style="left:1104.92px;top:765px;font-size:19.87px;transform:scaleX(0.9363)">3.0</span>
<span class="t b" style="left:1146.18px;top:694px;font-size:28.71px;transform:scaleX(1.0637)">1.0</span>
<span class="t b" style="left:643.82px;top:838px;font-size:26.25px;transform:scaleX(0.9881)">Miklovičová</span>
<span class="t" style="left:644.06px;top:873px;font-size:21.87px;transform:scaleX(0.9377)">Adriana</span>
<span class="t" style="left:643.47px;top:944px;font-size:17.67px;transform:scaleX(0.9525)">8257</span>
<span class="t" style="left:879.89px;top:805px;font-size:17.50px;transform:scaleX(0.9124)">Plne.</span>
<span class="t" style="left:944.82px;top:805px;font-size:17.50px;transform:scaleX(0.9604)">Dor</span>
<span class="t" style="left:998.35px;top:805px;font-size:17.67px;transform:scaleX(0.8390)">CH</span>
<span class="t" style="left:1045.73px;top:805px;font-size:17.67px;transform:scaleX(0.8375)">SUM</span>
<span class="t" style="left:1104.65px;top:805px;font-size:17.67px;transform:scaleX(0.8135)">SB</span>
<span class="t" style="left:1164.06px;top:805px;font-size:17.67px;transform:scaleX(0.8674)">TB</span>
<span class="t" style="left:844.38px;top:833px;font-size:19.87px;transform:scaleX(0.9381)">1.</span>
<span class="t" style="left:880.27px;top:833px;font-size:19.87px;transform:scaleX(0.9383)">84</span>
<span class="t" style="left:945.50px;top:833px;font-size:19.87px;transform:scaleX(0.9212)">53</span>
<span class="t" style="left:1004.47px;top:833px;font-size:19.87px;transform:scaleX(0.8637)">2</span>
<span class="t" style="left:1045.37px;top:833px;font-size:19.87px;transform:scaleX(0.9436)">137</span>
<span class="t" style="left:1104.77px;top:833px;font-size:19.87px;transform:scaleX(0.9418)">1.0</span>
<span class="t" style="left:844.24px;top:862px;font-size:19.87px;transform:scaleX(0.9476)">2.</span>
<span class="t" style="left:880.27px;top:862px;font-size:19.87px;transform:scaleX(0.9459)">86</span>
<span class="t" style="left:945.33px;top:862px;font-size:19.87px;transform:scaleX(0.9354)">44</span>
<span class="t" style="left:1004.47px;top:862px;font-size:19.87px;transform:scaleX(0.8637)">2</span>
<span class="t" style="left:1045.37px;top:862px;font-size:19.87px;transform:scaleX(0.9472)">130</span>
<span class="t" style="left:1104.73px;top:862px;font-size:19.87px;transform:scaleX(0.9436)">0.0</span>
<span class="t" style="left:844.53px;top:892px;font-size:19.87px;transform:scaleX(0.9279)">3.</span>
<span class="t" style="left:880.27px;top:892px;font-size:19.87px;transform:scaleX(0.9383)">84</span>
<span class="t" style="left:945.33px;top:892px;font-size:19.87px;transform:scaleX(0.9212)">45</span>
<span class="t" style="left:1004.47px;top:892px;font-size:19.87px;transform:scaleX(0.8637)">2</span>
<span class="t" style="left:1045.36px;top:892px;font-size:19.87px;transform:scaleX(0.9502)">129</span>
<span class="t" style="left:1104.73px;top:892px;font-size:19.87px;transform:scaleX(0.9436)">0.0</span>
<span class="t" style="left:844.35px;top:922px;font-size:19.87px;transform:scaleX(0.9404)">4.</span>
<span class="t" style="left:880.11px;top:922px;font-size:19.87px;transform:scaleX(0.9531)">96</span>
<span class="t" style="left:945.50px;top:922px;font-size:19.87px;transform:scaleX(0.9212)">53</span>
<span class="t" style="left:1004.65px;top:922px;font-size:19.87px;transform:scaleX(0.8560)">1</span>
<span class="t" style="left:1045.36px;top:922px;font-size:19.87px;transform:scaleX(0.9502)">149</span>
<span class="t" style="left:1104.77px;top:922px;font-size:19.87px;transform:scaleX(0.9418)">1.0</span>
<span class="t" style="left:880.51px;top:951px;font-size:19.87px;transform:scaleX(0.9425)">350</span>
<span class="t" style="left:945.36px;top:951px;font-size:19.87px;transform:scaleX(0.9374)">195</span>
<span class="t" style="left:1004.58px;top:951px;font-size:19.87px;transform:scaleX(0.8767)">7</span>
<span class="t b" style="left:1046.10px;top:950px;font-size:22.08px;transform:scaleX(1.0234)">545</span>
<span class="t" style="left:1104.64px;top:951px;font-size:19.87px;transform:scaleX(0.9468)">2.0</span>
<span class="t b" style="left:1146.18px;top:880px;font-size:28.71px;transform:scaleX(1.0637)">1.0</span>
<span class="t" style="left:277.82px;top:1030px;font-size:17.67px;transform:scaleX(0.9542)">1438</span>
<span class="t" style="left:343.54px;top:1030px;font-size:17.67px;transform:scaleX(0.9464)">774</span>
<span class="t" style="left:402.13px;top:1030px;font-size:17.67px;transform:scaleX(0.9253)">9</span>
<span class="t b" style="left:425.67px;top:1019px;font-size:28.71px;transform:scaleX(1.0335)">2212</span>
<span class="t" style="left:502.52px;top:1030px;font-size:17.67px;transform:scaleX(0.9390)">9.5</span>
<span class="t b" style="left:552.63px;top:1016px;font-size:33.12px;transform:scaleX(0.9359)">2</span>
<span class="t b" style="left:534.93px;top:1084px;font-size:35.33px;transform:scaleX(1.0688)">4.0</span>
<span class="t" style="left:880.21px;top:1030px;font-size:17.67px;transform:scaleX(0.9566)">1426</span>
<span class="t" style="left:945.94px;top:1030px;font-size:17.67px;transform:scaleX(0.9467)">730</span>
<span class="t" style="left:1004.62px;top:1030px;font-size:17.67px;transform:scaleX(0.9396)">24</span>
<span class="t b" style="left:1028.06px;top:1019px;font-size:28.71px;transform:scaleX(1.0447)">2156</span>
<span class="t" style="left:1104.96px;top:1030px;font-size:17.67px;transform:scaleX(0.9375)">6.5</span>
<span class="t b" style="left:1153.83px;top:1016px;font-size:33.12px;transform:scaleX(1.0724)">0</span>
<span class="t b" style="left:1137.62px;top:1084px;font-size:35.33px;transform:scaleX(1.0626)">2.0</span>
<span class="t" style="left:151.51px;top:1219px;font-size:21.87px;transform:scaleX(0.9428)">Móc Daniel</span>
<span class="t" style="left:471.58px;top:1219px;font-size:21.87px;transform:scaleX(0.9573)">Rozhodca: Bystrík Vadovič (0065)</span>
<span class="t" style="left:956.07px;top:1219px;font-size:21.87px;transform:scaleX(0.9077)">Bošnáková Jana</span>
</div>
<svg style="left:25px;top:40px" width="70" height="110" viewBox="0 0 1116 1754">
<defs>
<linearGradient id="gb" x1="0" y1="0" x2="1" y2="0"><stop offset="0" stop-color="#174f9f"/><stop offset="0.55" stop-color="#1f78c4"/><stop offset="1" stop-color="#2a8fd6"/></linearGradient>
<linearGradient id="gr" x1="0" y1="0" x2="1" y2="0"><stop offset="0" stop-color="#d01f2a"/><stop offset="1" stop-color="#ee3423"/></linearGradient>
</defs>
<g stroke="none">
<!-- cross -->
<rect x="541" y="65" width="14" height="345" fill="#cf2030"/>
<rect x="465" y="128" width="162" height="13" fill="#cf2030"/>
<rect x="432" y="256" width="234" height="13" fill="#cf2030"/>
<!-- side pin rods -->
<rect x="260" y="192" width="22" height="380" fill="#14509f"/>
<rect x="812" y="192" width="20" height="380" fill="#14509f"/>
<!-- centre pin -->
<path fill="url(#gb)" d="M548,400 C622,400 658,452 652,512 C646,585 602,680 602,762 C602,840 642,898 642,936 C642,976 600,992 546,992 C490,992 446,976 446,936 C446,898 494,840 494,762 C494,680 450,585 444,512 C438,452 474,400 548,400 Z"/>
<!-- left pin head -->
<path fill="url(#gb)" d="M270,553 C332,556 368,606 364,662 C360,732 334,800 316,862 C268,822 184,742 176,652 C172,600 212,556 270,553 Z"/>
<!-- right pin head -->
<path fill="url(#gb)" d="M822,553 C760,556 730,606 734,662 C738,732 756,800 770,862 C822,822 906,742 912,652 C916,600 880,556 822,553 Z"/>
<!-- left red flame -->
<path fill="url(#gr)" d="M232,866 C262,900 300,920 324,936 C344,990 336,1040 312,1100 C282,1180 268,1260 270,1340 C272,1450 296,1580 332,1668 L146,1668 C106,1600 80,1500 80,1390 C80,1270 122,1150 176,1050 C206,990 224,930 232,866 Z"/>
<!-- centre red -->
<path fill="url(#gr)" d="M420,990 C456,1020 500,1050 546,1054 C592,1050 632,1026 664,1008 L692,1030 C716,1100 748,1180 762,1264 C640,1280 520,1350 468,1470 C440,1540 470,1620 522,1668 L386,1668 C346,1590 322,1490 322,1390 C322,1260 352,1130 392,1040 Z"/>
<!-- right red flame -->
<path fill="url(#gr)" d="M868,850 C880,930 912,1010 950,1090 C992,1180 1018,1280 1016,1390 C1014,1500 984,1610 934,1668 L848,1668 C900,1610 934,1540 930,1470 C924,1390 860,1330 826,1250 C796,1170 760,1080 756,1000 C754,970 758,950 766,934 C806,916 846,890 868,850 Z"/>
</g>
</svg>
</body></html>
